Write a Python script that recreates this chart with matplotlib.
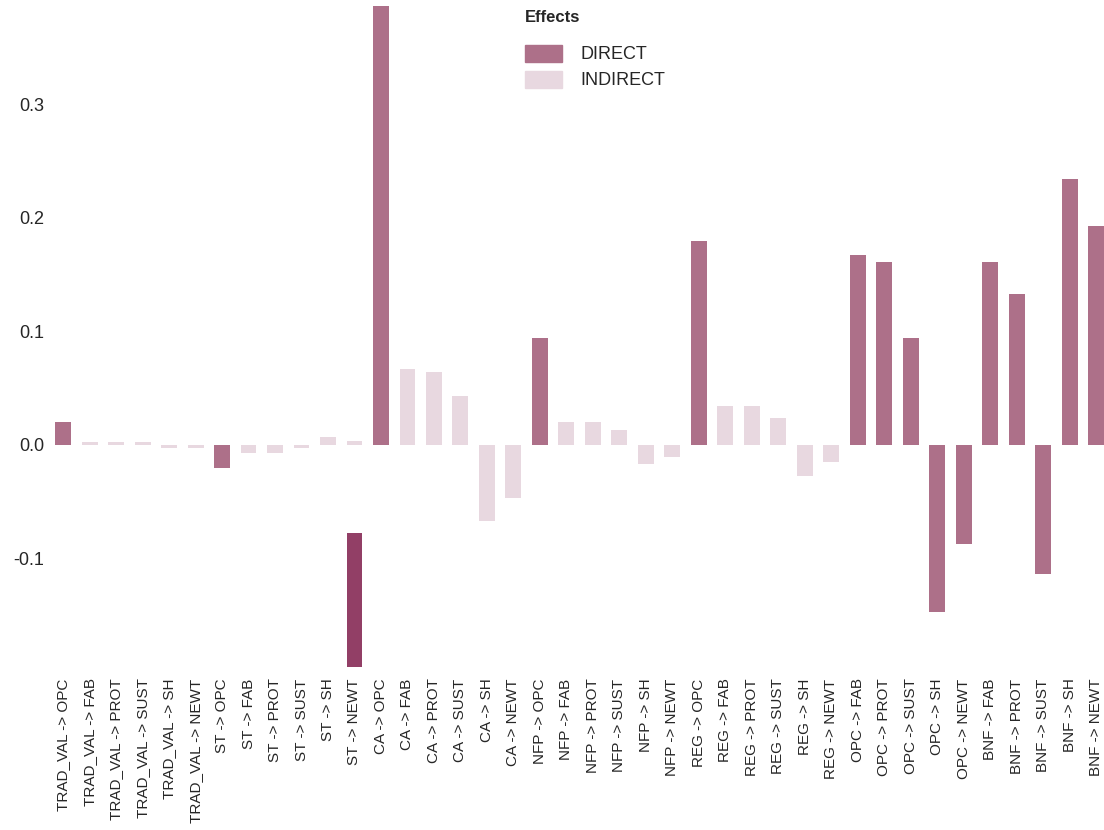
import matplotlib.pyplot as plt
from matplotlib.patches import Patch

plt.rcParams['font.family'] = ['Liberation Sans', 'DejaVu Sans']
plt.rcParams['text.color'] = '#262626'
plt.rcParams['xtick.color'] = '#262626'
plt.rcParams['ytick.color'] = '#262626'

# Path labels and effect estimates
sources = ["TRAD_VAL"] * 6 + ["ST"] * 6 + ["CA"] * 6 + ["NFP"] * 6 + ["REG"] * 6 + ["OPC"] * 5 + ["BNF"] * 5
targets = (["OPC", "FAB", "PROT", "SUST", "SH", "NEWT"] * 5
           + ["FAB", "PROT", "SUST", "SH", "NEWT"] * 2)
labels = [f"{s} -> {t}" for s, t in zip(sources, targets)]

values = [0.020, 0.003, 0.003, 0.003, -0.003, -0.003,
          -0.020, -0.007, -0.007, -0.003, 0.007, 0.0035,
          0.387, 0.067, 0.064, 0.043, -0.067, -0.047,
          0.094, 0.020, 0.020, 0.013, -0.017, -0.011,
          0.180, 0.034, 0.034, 0.024, -0.027, -0.015,
          0.167, 0.161, 0.094, -0.147, -0.087,
          0.161, 0.133, -0.114, 0.234, 0.193]
effects = ["DIRECT", "INDIRECT", "INDIRECT", "INDIRECT", "INDIRECT", "INDIRECT"] * 5 + ["DIRECT"] * 10

# extra highlighted segment on ST -> NEWT
extra_label = "ST -> NEWT"
extra_top = -0.0776
extra_bottom = -0.196

colors = {"DIRECT": "#ad7089", "INDIRECT": "#e8d8e0"}

fig, ax = plt.subplots(figsize=(11.04, 8.3), dpi=100)
x = list(range(len(labels)))
ax.bar(x, values, width=0.6, color=[colors[e] for e in effects])
xi = labels.index(extra_label)
ax.bar([xi], [extra_bottom - extra_top], bottom=extra_top, width=0.6, color="#923f66")

ax.set_xticks(x)
ax.set_xticklabels(labels, rotation=90, fontsize=11)
ax.set_yticks([-0.1, 0.0, 0.1, 0.2, 0.3])
ax.set_yticklabels(["-0.1", "0.0", "0.1", "0.2", "0.3"], fontsize=13)
ax.tick_params(length=0, pad=8)
ax.set_xlim(-0.3, len(labels) - 0.7)
ax.set_ylim(extra_bottom, 0.387)
for s in ax.spines.values():
    s.set_visible(False)

handles = [Patch(color=colors[k], label=k) for k in colors]
leg = ax.legend(handles=handles, title="Effects", loc="upper left", bbox_to_anchor=(0.432, 1.018),
                frameon=False, fontsize=13, title_fontproperties={"weight": "bold", "size": 12},
                handlelength=2.1, handleheight=1.1, handletextpad=1.0, labelspacing=0.4)
leg._legend_box.align = "left"
leg._legend_box.sep = 14

plt.subplots_adjust(left=0.05, right=1.0, top=0.993, bottom=0.196)
plt.savefig("out.png")
